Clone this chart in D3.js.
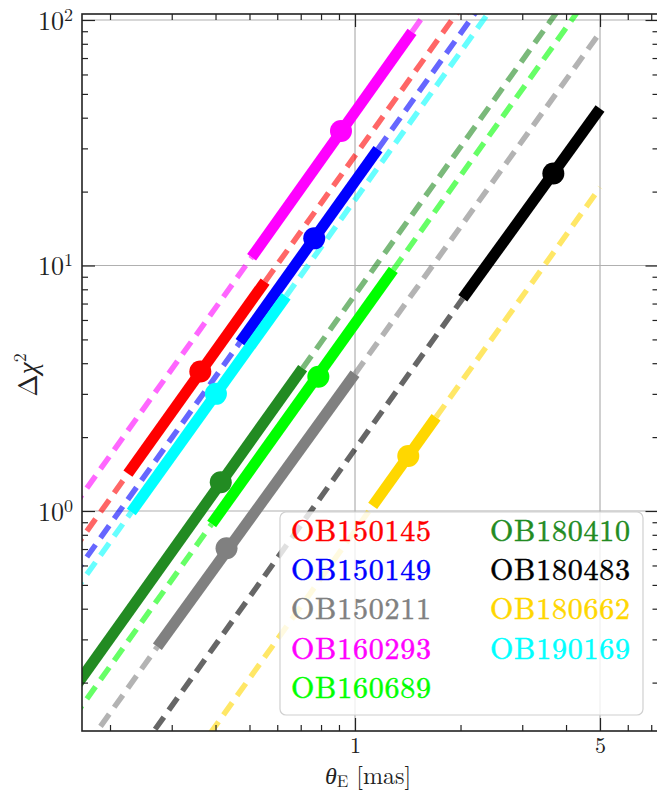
<!DOCTYPE html>
<html>
<head>
<meta charset="utf-8">
<script src="https://cdn.jsdelivr.net/npm/d3@7"></script>
<style>
  html, body { margin: 0; padding: 0; background: #fff; }
  svg { display: block; }
</style>
</head>
<body>
<script>
// events, in the legend order (also the drawing order)
const events = ["OB150145", "OB150149", "OB150211", "OB160293", "OB160689",
                "OB180410", "OB180483", "OB180662", "OB190169"];
const colors = ["#ff0000", "#0000ff", "#808080", "#ff00ff", "#00ff00",
                "#228b22", "#000000", "#ffd700", "#00ffff"];

// best point of each event (theta_E in mas, delta chi2)
const bestTheta = [0.362, 0.765, 0.430, 0.912, 0.786, 0.414, 3.68, 1.419, 0.401];
const bestChi2 = [3.70, 12.9, 0.705, 35.3, 3.52, 1.31, 23.7, 1.675, 3.00];

// solid segment: [start, end]
const solidTheta = [[0.225, 0.554], [0.470, 1.163], [0.273, 1.0], [0.507, 1.454], [0.390, 1.286],
                    [0.12, 0.709], [2.03, 5.0], [1.123, 1.703], [0.230, 0.636]];
const solidChi2 = [[1.42, 8.6], [4.87, 29.8], [0.28, 3.62], [10.8, 89.5], [0.885, 9.6],
                   [0.109, 3.82], [7.35, 43.6], [1.049, 2.41], [0.99, 7.5]];

// dashed extensions: lower one starts here and runs to the solid start,
// upper one runs from the solid end to here (null = none)
const dashLowTheta = [0.12, 0.12, 0.12, 0.12, 0.12, null, 0.12, 0.12, 0.12];
const dashLowChi2 = [0.404, 0.317, 0.0541, 0.605, 0.0838, null, 0.0257, 0.012, 0.269];
const dashHighTheta = [5, 5, 5, 5, 5, 5, null, 5, 5];
const dashHighChi2 = [700, 551, 89, 1058, 145, 190, null, 20.8, 463];

// ticks
const xMajor = [1, 5];
const xMinor = [0.2, 0.3, 0.4, 0.5, 0.6, 0.7, 0.8, 0.9, 2, 3, 4, 6, 7];
const yMajor = [1, 10, 100];
const yMajorExp = ["0", "1", "2"];
const yMinor = [0.2, 0.3, 0.4, 0.5, 0.6, 0.7, 0.8, 0.9,
                2, 3, 4, 5, 6, 7, 8, 9, 20, 30, 40, 50, 60, 70, 80, 90];

const width = 657, height = 794;
const pLeft = 82, pRight = 658.5, pTop = 14, pBottom = 731;
const serif = '"Latin Modern Roman", "Liberation Serif", serif';

const x = d3.scaleLog().domain([0.16639, 7.3425]).range([pLeft, pRight]);
const y = d3.scaleLog().domain([0.12703, 105.79]).range([pBottom, pTop]);

const svg = d3.select("body").append("svg")
    .attr("width", width)
    .attr("height", height)
    .attr("viewBox", [0, 0, width, height]);

svg.append("defs").append("clipPath")
    .attr("id", "plot-clip")
    .append("rect")
    .attr("x", pLeft)
    .attr("y", pTop)
    .attr("width", pRight - pLeft)
    .attr("height", pBottom - pTop);

// grid
const grid = svg.append("g").attr("stroke", "#b0b0b0").attr("stroke-width", 1.2);
grid.selectAll(".gx")
    .data(xMajor)
    .join("line")
    .attr("class", "gx")
    .attr("x1", d => x(d)).attr("x2", d => x(d))
    .attr("y1", pTop).attr("y2", pBottom);
grid.selectAll(".gy")
    .data(yMajor)
    .join("line")
    .attr("class", "gy")
    .attr("x1", pLeft).attr("x2", pRight)
    .attr("y1", d => y(d)).attr("y2", d => y(d));

const plot = svg.append("g").attr("clip-path", "url(#plot-clip)");
const line = d3.line().x(d => x(d[0])).y(d => y(d[1]));

// dashed extensions
const dashSegs = [];
events.forEach((e, i) => {
    if (dashLowTheta[i] !== null) {
        dashSegs.push({i, pts: [[dashLowTheta[i], dashLowChi2[i]], [solidTheta[i][0], solidChi2[i][0]]]});
    }
    if (dashHighTheta[i] !== null) {
        dashSegs.push({i, pts: [[solidTheta[i][1], solidChi2[i][1]], [dashHighTheta[i], dashHighChi2[i]]]});
    }
});

plot.selectAll(".dash")
    .data(dashSegs)
    .join("path")
    .attr("class", "dash")
    .attr("d", d => line(d.pts))
    .attr("fill", "none")
    .attr("stroke", d => colors[d.i])
    .attr("stroke-opacity", 0.6)
    .attr("stroke-width", 5.5)
    .attr("stroke-dasharray", "15,8.5");

// solid segments
plot.selectAll(".solid")
    .data(events)
    .join("path")
    .attr("class", "solid")
    .attr("d", (d, i) => line([[solidTheta[i][0], solidChi2[i][0]], [solidTheta[i][1], solidChi2[i][1]]]))
    .attr("fill", "none")
    .attr("stroke", (d, i) => colors[i])
    .attr("stroke-width", 11);

// best points
plot.selectAll(".best")
    .data(events)
    .join("circle")
    .attr("class", "best")
    .attr("cx", (d, i) => x(bestTheta[i]))
    .attr("cy", (d, i) => y(bestChi2[i]))
    .attr("r", 11)
    .attr("fill", (d, i) => colors[i]);

// ticks (pointing inward, on all four sides)
function styleAxis(g) {
    g.attr("font-family", null).attr("font-size", null).attr("color", "#222");
    g.select(".domain").remove();
    g.selectAll(".tick line").attr("stroke-width", 1.2);
}

svg.append("g")
    .attr("transform", `translate(0,${pBottom})`)
    .call(d3.axisBottom(x).tickValues(xMajor).tickSize(-13).tickPadding(6).tickFormat(d3.format("d")))
    .call(styleAxis)
    .call(g => g.selectAll(".tick text")
        .style("font-family", serif)
        .style("font-size", "22px")
        .attr("fill", "#222"));
svg.append("g")
    .attr("transform", `translate(0,${pBottom})`)
    .call(d3.axisBottom(x).tickValues(xMinor).tickSize(-6).tickFormat(""))
    .call(styleAxis);
svg.append("g")
    .attr("transform", `translate(0,${pTop})`)
    .call(d3.axisTop(x).tickValues(xMajor).tickSize(-13).tickFormat(""))
    .call(styleAxis);
svg.append("g")
    .attr("transform", `translate(0,${pTop})`)
    .call(d3.axisTop(x).tickValues(xMinor).tickSize(-6).tickFormat(""))
    .call(styleAxis);

svg.append("g")
    .attr("transform", `translate(${pLeft},0)`)
    .call(d3.axisLeft(y).tickValues(yMajor).tickSize(-13).tickFormat(""))
    .call(styleAxis);
svg.append("g")
    .attr("transform", `translate(${pLeft},0)`)
    .call(d3.axisLeft(y).tickValues(yMinor).tickSize(-6).tickFormat(""))
    .call(styleAxis);
svg.append("g")
    .attr("transform", `translate(${pRight},0)`)
    .call(d3.axisRight(y).tickValues(yMajor).tickSize(-13).tickFormat(""))
    .call(styleAxis);
svg.append("g")
    .attr("transform", `translate(${pRight},0)`)
    .call(d3.axisRight(y).tickValues(yMinor).tickSize(-6).tickFormat(""))
    .call(styleAxis);

// y tick labels 10^n
const yLabels = svg.append("g").attr("fill", "#222");
yMajor.forEach((v, i) => {
    const t = yLabels.append("text")
        .attr("x", 73)
        .attr("y", y(v) + 9.5)
        .attr("text-anchor", "end")
        .style("font-family", serif)
        .style("font-size", "26px");
    t.append("tspan").text("10");
    t.append("tspan").style("font-size", "18px").attr("dy", -9).text(yMajorExp[i]);
});

// frame
svg.append("rect")
    .attr("x", pLeft)
    .attr("y", pTop)
    .attr("width", pRight - pLeft)
    .attr("height", pBottom - pTop)
    .attr("fill", "none")
    .attr("stroke", "#222")
    .attr("stroke-width", 1.6);

// axis titles
const xTitle = svg.append("text")
    .attr("x", 368)
    .attr("y", 784)
    .attr("text-anchor", "middle")
    .style("font-family", serif)
    .style("font-size", "24px")
    .attr("fill", "#222");
xTitle.append("tspan").style("font-style", "italic").text("θ");
xTitle.append("tspan").style("font-size", "17px").attr("dy", 3).text("E");
xTitle.append("tspan").attr("dy", -3).text(" [mas]");

const yTitle = svg.append("text")
    .attr("transform", "translate(37,375) rotate(-90)")
    .attr("text-anchor", "middle")
    .style("font-family", serif)
    .style("font-size", "27px")
    .attr("fill", "#222");
yTitle.append("tspan").text("Δ");
yTitle.append("tspan").style("font-style", "italic").text("χ");
yTitle.append("tspan").style("font-size", "18px").attr("dy", -11).text("2");

// legend
const legend = svg.append("g");
legend.append("rect")
    .attr("x", 280)
    .attr("y", 512)
    .attr("width", 363)
    .attr("height", 203)
    .attr("rx", 6)
    .attr("fill", "#fff")
    .attr("fill-opacity", 0.8)
    .attr("stroke", "#d0d0d0")
    .attr("stroke-width", 1.2);

legend.selectAll("text")
    .data(events)
    .join("text")
    .attr("x", (d, i) => i < 5 ? 291 : 490)
    .attr("y", (d, i) => 541 + (i % 5) * 39.2)
    .style("font-family", serif)
    .style("font-size", "30px")
    .attr("textLength", 140)
    .attr("lengthAdjust", "spacing")
    .attr("fill", (d, i) => colors[i])
    .attr("stroke", (d, i) => colors[i])
    .attr("stroke-width", 0.5)
    .text(d => d);
</script>
</body>
</html>
